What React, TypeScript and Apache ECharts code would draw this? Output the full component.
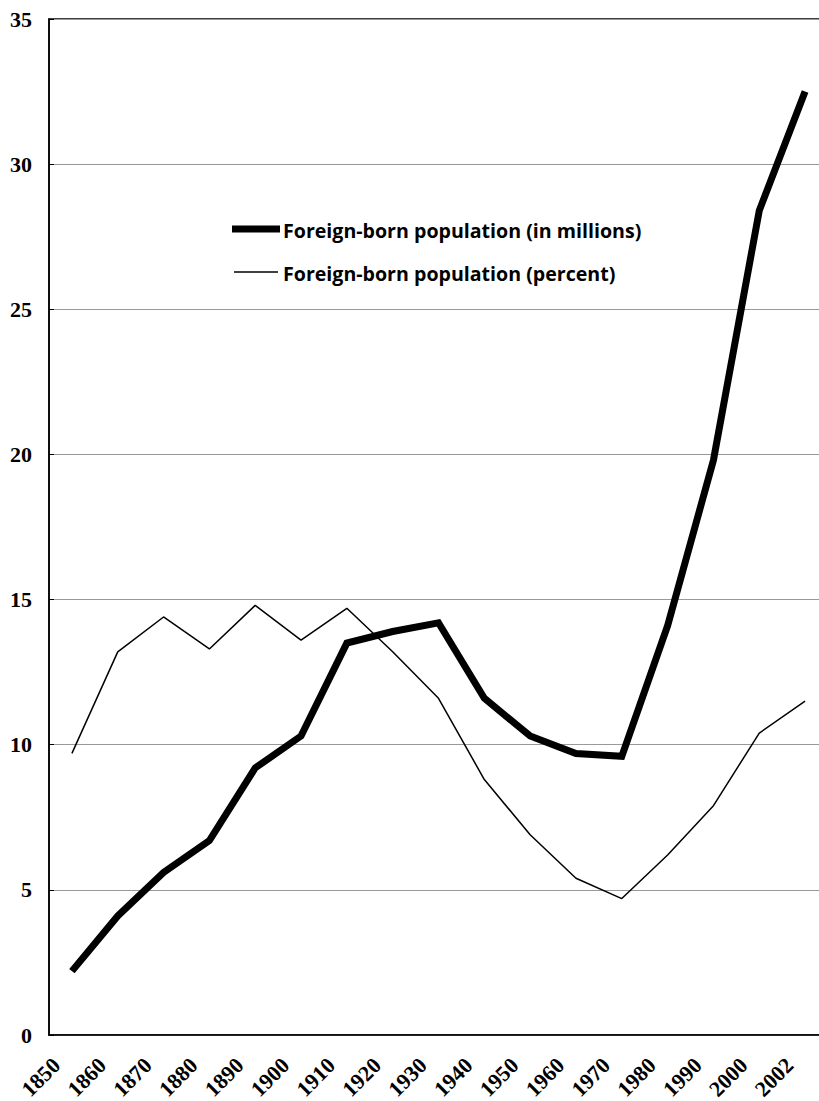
import React, { useEffect, useRef } from "react";
import * as echarts from "echarts";

const years = ["1850","1860","1870","1880","1890","1900","1910","1920","1930","1940","1950","1960","1970","1980","1990","2000","2002"];
const millions = [2.2, 4.1, 5.6, 6.7, 9.2, 10.3, 13.5, 13.9, 14.2, 11.6, 10.3, 9.7, 9.6, 14.1, 19.8, 28.4, 32.5];
const percent = [9.7, 13.2, 14.4, 13.3, 14.8, 13.6, 14.7, 13.2, 11.6, 8.8, 6.9, 5.4, 4.7, 6.2, 7.9, 10.4, 11.5];
const seriesNames = ["Foreign-born population (in millions)", "Foreign-born population (percent)"];

const serif = "'Liberation Serif', 'Times New Roman', serif";
const legendFont = "bold 19.6px 'Open Sans', Lato, sans-serif";

export default function App() {
  const ref = useRef<HTMLDivElement>(null);
  useEffect(() => {
    if (!ref.current) return;
    const chart = echarts.init(ref.current, undefined, { renderer: "svg" });
    chart.setOption({
      animation: false,
      backgroundColor: "#fff",
      grid: {
        left: 49,
        top: 19,
        width: 779,
        height: 1016,
        outerBoundsMode: "none",
        containLabel: false,
        show: true,
        borderColor: "#000",
        borderWidth: 1.5,
        backgroundColor: "transparent",
      },
      xAxis: {
        type: "category",
        data: years,
        boundaryGap: true,
        axisLine: { lineStyle: { color: "#000", width: 1.5 } },
        axisTick: { inside: true, length: 6, lineStyle: { color: "#000", width: 1 } },
        axisLabel: {
          rotate: 45,
          interval: 0,
          margin: 11,
          padding: [0, 22, 0, 0],
          color: "#000",
          fontFamily: serif,
          fontWeight: "bold",
          fontSize: 22,
          hideOverlap: false,
        },
        splitLine: { show: false },
      },
      yAxis: {
        type: "value",
        min: 0,
        max: 35,
        interval: 5,
        axisLine: { show: true, lineStyle: { color: "#000", width: 1.5 } },
        axisTick: { show: true, inside: true, length: 5, lineStyle: { color: "#000", width: 1 } },
        axisLabel: {
          margin: 17,
          color: "#000",
          fontFamily: serif,
          fontWeight: "bold",
          fontSize: 22,
        },
        splitLine: { lineStyle: { color: "#999", width: 1 } },
      },
      series: [
        {
          name: seriesNames[1],
          type: "line",
          data: percent,
          symbol: "none",
          lineStyle: { color: "#000", width: 1.5 },
          z: 2,
        },
        {
          name: seriesNames[0],
          type: "line",
          data: millions,
          symbol: "none",
          lineStyle: { color: "#000", width: 7, join: "miter", cap: "butt" },
          z: 3,
        },
      ],
      graphic: [
        {
          type: "line",
          shape: { x1: 232, y1: 229, x2: 280, y2: 229 },
          style: { stroke: "#000", lineWidth: 7 },
        },
        {
          type: "text",
          x: 283,
          y: 230,
          style: { text: seriesNames[0], font: legendFont, fill: "#000", verticalAlign: "middle", align: "left" },
        },
        {
          type: "line",
          shape: { x1: 234, y1: 272, x2: 278, y2: 272 },
          style: { stroke: "#000", lineWidth: 1.5 },
        },
        {
          type: "text",
          x: 283,
          y: 273,
          style: { text: seriesNames[1], font: legendFont, fill: "#000", verticalAlign: "middle", align: "left" },
        },
      ],
    });
    return () => chart.dispose();
  }, []);
  return (
    <div style={{ position: "absolute", left: 0, top: 0, width: 819, height: 1101, overflow: "hidden", background: "#fff" }}>
      <div ref={ref} style={{ width: 860, height: 1101 }} />
    </div>
  );
}
